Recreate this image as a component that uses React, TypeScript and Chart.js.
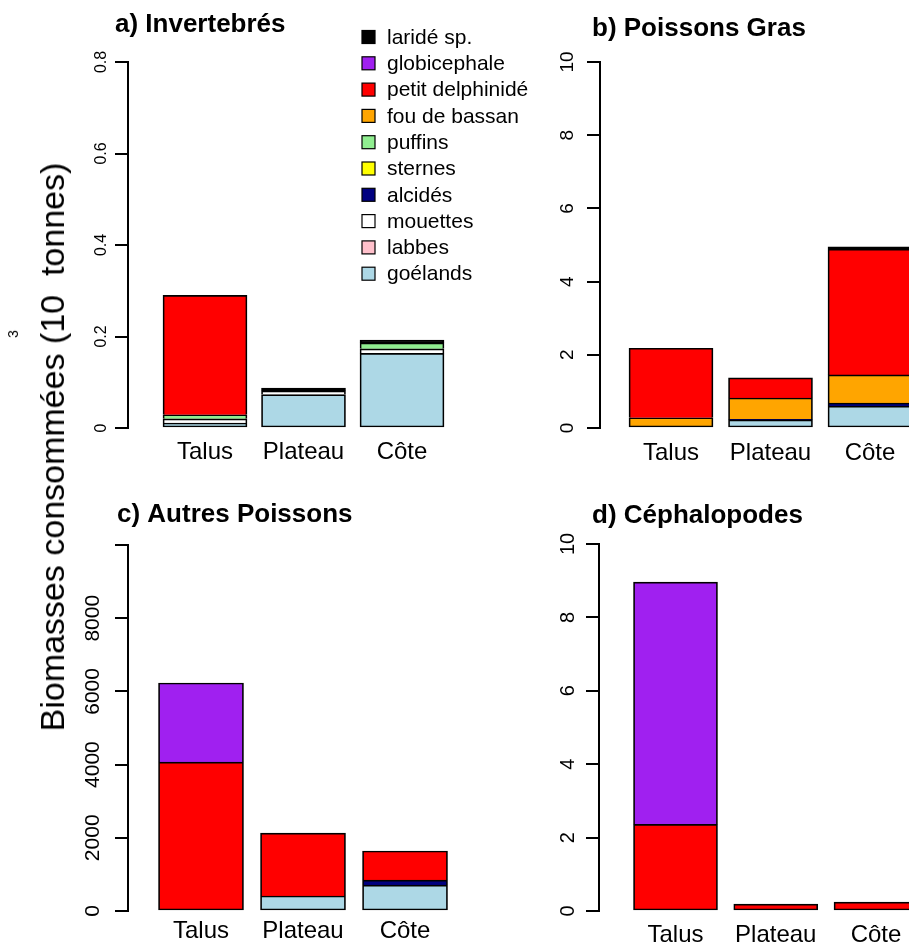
import React, { useEffect, useRef } from "react";
import { Chart, registerables } from "chart.js";
Chart.register(...registerables);

const FONT = '"Liberation Sans", Arial, Helvetica, sans-serif';

const sites = ["Talus", "Plateau", "Côte"];
const species = ["goélands", "labbes", "mouettes", "alcidés", "sternes", "puffins", "fou de bassan", "petit delphinidé", "globicephale", "laridé sp."];
const speciesColors = ["#ADD8E6", "#FFC0CB", "#FFFFFF", "#000080", "#FFFF00", "#90EE90", "#FFA500", "#FF0000", "#A020F0", "#000000"];

// a) Invertebrés  (Talus, Plateau, Côte)
const invGoelands = [0.011, 0.073, 0.163];
const invLabbes = [0, 0, 0];
const invMouettes = [0.009, 0.008, 0.010];
const invAlcides = [0, 0, 0];
const invSternes = [0, 0, 0];
const invPuffins = [0.009, 0, 0.013];
const invFou = [0, 0, 0];
const invDelphinide = [0.261, 0, 0];
const invGlobicephale = [0, 0, 0];
const invLaride = [0, 0.006, 0.006];

// b) Poissons Gras
const grasGoelands = [0, 0.22, 0.60];
const grasLabbes = [0, 0, 0];
const grasMouettes = [0, 0, 0];
const grasAlcides = [0, 0.02, 0.08];
const grasSternes = [0, 0, 0];
const grasPuffins = [0, 0, 0];
const grasFou = [0.28, 0.58, 0.77];
const grasDelphinide = [1.90, 0.55, 3.44];
const grasGlobicephale = [0, 0, 0];
const grasLaride = [0, 0, 0.06];

// c) Autres Poissons
const autGoelands = [0, 410, 710];
const autLabbes = [0, 0, 0];
const autMouettes = [0, 0, 0];
const autAlcides = [0, 0, 136];
const autSternes = [0, 0, 0];
const autPuffins = [0, 0, 0];
const autFou = [0, 0, 0];
const autDelphinide = [4070, 1720, 794];
const autGlobicephale = [2160, 0, 0];
const autLaride = [0, 0, 0];

// d) Céphalopodes
const cepGoelands = [0, 0, 0];
const cepLabbes = [0, 0, 0];
const cepMouettes = [0, 0, 0];
const cepAlcides = [0, 0, 0];
const cepSternes = [0, 0, 0];
const cepPuffins = [0, 0, 0];
const cepFou = [0, 0, 0];
const cepDelphinide = [2.36, 0.19, 0.24];
const cepGlobicephale = [6.60, 0, 0];
const cepLaride = [0, 0, 0];

const aTicks = [0, 0.2, 0.4, 0.6, 0.8];
const aTickLabels = ["0", "0.2", "0.4", "0.6", "0.8"];
const bTicks = [0, 2, 4, 6, 8, 10];
const bTickLabels = ["0", "2", "4", "6", "8", "10"];
const cTicks = [0, 2000, 4000, 6000, 8000, 10000];
const cTickLabels = ["0", "2000", "4000", "6000", "8000", ""];
const dTicks = [0, 2, 4, 6, 8, 10];
const dTickLabels = ["0", "2", "4", "6", "8", "10"];

const yTitle = "Biomasses consommées (10  tonnes)";
const yTitleSup = "3";

type PanelDef = {
  left: number; top: number; w: number; h: number;
  padTop: number; yAxisW: number; xAxisH: number;
  xMin: number; xMax: number; barW: number;
  yMax: number; ticks: number[]; tickLabels: string[];
  tickFont: number; tickOff: number; xLabOff: number;
  title: string; titleX: number; titleY: number;
  values: number[][]; legend: boolean;
};

const panels: PanelDef[] = [
  {
    left: 0, top: 0, w: 560, h: 475, padTop: 62, yAxisW: 128, xAxisH: 47,
    xMin: 0.2183, xMax: 4.604, barW: 84, yMax: 0.8, ticks: aTicks, tickLabels: aTickLabels,
    tickFont: 16, tickOff: 26, xLabOff: 31, title: "a) Invertebrés", titleX: 115, titleY: 32,
    values: [invGoelands, invLabbes, invMouettes, invAlcides, invSternes, invPuffins, invFou, invDelphinide, invGlobicephale, invLaride],
    legend: true,
  },
  {
    left: 460, top: 0, w: 449, h: 475, padTop: 62, yAxisW: 140, xAxisH: 47,
    xMin: 0.2864, xMax: 3.392, barW: 84, yMax: 10, ticks: bTicks, tickLabels: bTickLabels,
    tickFont: 19, tickOff: 32, xLabOff: 32, title: "b) Poissons Gras", titleX: 132, titleY: 36,
    values: [grasGoelands, grasLabbes, grasMouettes, grasAlcides, grasSternes, grasPuffins, grasFou, grasDelphinide, grasGlobicephale, grasLaride],
    legend: false,
  },
  {
    left: 0, top: 475, w: 460, h: 472, padTop: 70, yAxisW: 128, xAxisH: 36,
    xMin: 0.2843, xMax: 3.539, barW: 85, yMax: 10000, ticks: cTicks, tickLabels: cTickLabels,
    tickFont: 21, tickOff: 35, xLabOff: 27, title: "c) Autres Poissons", titleX: 117, titleY: 47,
    values: [autGoelands, autLabbes, autMouettes, autAlcides, autSternes, autPuffins, autFou, autDelphinide, autGlobicephale, autLaride],
    legend: false,
  },
  {
    left: 460, top: 475, w: 449, h: 472, padTop: 69, yAxisW: 139, xAxisH: 36,
    xMin: 0.2369, xMax: 3.329, barW: 84, yMax: 10, ticks: dTicks, tickLabels: dTickLabels,
    tickFont: 20, tickOff: 31, xLabOff: 31, title: "d) Céphalopodes", titleX: 132, titleY: 48,
    values: [cepGoelands, cepLabbes, cepMouettes, cepAlcides, cepSternes, cepPuffins, cepFou, cepDelphinide, cepGlobicephale, cepLaride],
    legend: false,
  },
];

const BW = 1.7;

function makePlugin(p: PanelDef) {
  return {
    id: "rdraw",
    afterDraw(chart: any) {
      const ctx = chart.ctx;
      const ys = chart.scales.y;
      const xs = chart.scales.x;
      const area = chart.chartArea;
      ctx.save();
      ctx.fillStyle = "#000";
      // y tick labels (rotated, R style)
      ctx.font = `${p.tickFont}px ${FONT}`;
      ctx.textAlign = "center";
      ctx.textBaseline = "middle";
      p.ticks.forEach((v, i) => {
        const y = ys.getPixelForValue(v);
        ctx.save();
        ctx.translate(area.left - p.tickOff, y);
        ctx.rotate(-Math.PI / 2);
        ctx.fillText(p.tickLabels[i], 0, 0);
        ctx.restore();
      });
      // x labels
      ctx.font = `24px ${FONT}`;
      ctx.textBaseline = "alphabetic";
      sites.forEach((s, i) => {
        ctx.fillText(s, xs.getPixelForValue(i + 1), area.bottom + p.xLabOff);
      });
      // title
      ctx.font = `bold 26px ${FONT}`;
      ctx.textAlign = "left";
      ctx.fillText(p.title, p.titleX, p.titleY);
      // legend
      if (p.legend) {
        ctx.font = `21px ${FONT}`;
        ctx.textBaseline = "middle";
        const n = species.length;
        for (let k = 0; k < n; k++) {
          const idx = n - 1 - k;
          const cy = 37 + k * 26.3;
          ctx.fillStyle = speciesColors[idx];
          ctx.fillRect(362, cy - 6.5, 13, 13);
          ctx.strokeStyle = "#000";
          ctx.lineWidth = 1.2;
          ctx.strokeRect(362, cy - 6.5, 13, 13);
          ctx.fillStyle = "#000";
          ctx.fillText(species[idx], 387, cy + 1);
        }
      }
      ctx.restore();
    },
  };
}

function makeConfig(p: PanelDef): any {
  const datasets = species.map((name, i) => ({
    label: name,
    data: p.values[i].map((v, j) => ({ x: j + 1, y: v })),
    backgroundColor: speciesColors[i],
    borderColor: "#000000",
    borderSkipped: false,
    barThickness: p.barW,
    borderWidth: (c: any) => {
      const j = c.dataIndex;
      let isBottom = true;
      for (let k = 0; k < i; k++) if (p.values[k][j] > 0) isBottom = false;
      return { top: BW, left: BW, right: BW, bottom: isBottom ? BW : 0 };
    },
  }));
  return {
    type: "bar",
    data: { datasets },
    options: {
      responsive: false,
      animation: false,
      events: [],
      layout: { padding: { top: p.padTop, left: 0, right: 0, bottom: 0 }, autoPadding: false },
      plugins: { legend: { display: false }, tooltip: { enabled: false }, title: { display: false } },
      scales: {
        x: {
          type: "linear", min: p.xMin, max: p.xMax, stacked: true, offset: false,
          grid: { display: false, offset: false }, border: { display: false }, ticks: { display: false },
          afterFit: (s: any) => { s.height = p.xAxisH; },
        },
        y: {
          type: "linear", min: 0, max: p.yMax, stacked: true,
          afterBuildTicks: (s: any) => { s.ticks = p.ticks.map((v) => ({ value: v })); },
          grid: { drawOnChartArea: false, drawTicks: true, tickLength: 13, color: "#000", lineWidth: 2 },
          border: { display: true, color: "#000", width: 2 },
          ticks: { display: false },
          afterFit: (s: any) => { s.width = p.yAxisW; },
        },
      },
    },
    plugins: [makePlugin(p)],
  };
}

function Panel({ p }: { p: PanelDef }) {
  const ref = useRef<HTMLCanvasElement>(null);
  useEffect(() => {
    const chart = new Chart(ref.current as HTMLCanvasElement, makeConfig(p));
    return () => chart.destroy();
  }, []);
  return (
    <div style={{ position: "absolute", left: p.left, top: p.top, width: p.w, height: p.h }}>
      <canvas ref={ref} width={p.w} height={p.h} style={{ display: "block" }} />
    </div>
  );
}

export default function App() {
  return (
    <div style={{ position: "absolute", left: 0, top: 0, width: 909, height: 947, background: "#fff", overflow: "hidden" }}>
      {panels.map((p, i) => <Panel key={i} p={p} />)}
      <div style={{ position: "absolute", left: 52, top: 447, width: 0, height: 0 }}>
        <div style={{ position: "absolute", left: 0, top: 0, transform: "translate(-50%,-50%) rotate(-90deg)", whiteSpace: "pre", fontFamily: FONT, fontSize: 34, lineHeight: "38px", color: "#000" }}>{yTitle}</div>
      </div>
      <div style={{ position: "absolute", left: 13, top: 334, width: 0, height: 0 }}>
        <div style={{ position: "absolute", left: 0, top: 0, transform: "translate(-50%,-50%) rotate(-90deg)", whiteSpace: "pre", fontFamily: FONT, fontSize: 14, lineHeight: "16px", color: "#000" }}>{yTitleSup}</div>
      </div>
    </div>
  );
}
